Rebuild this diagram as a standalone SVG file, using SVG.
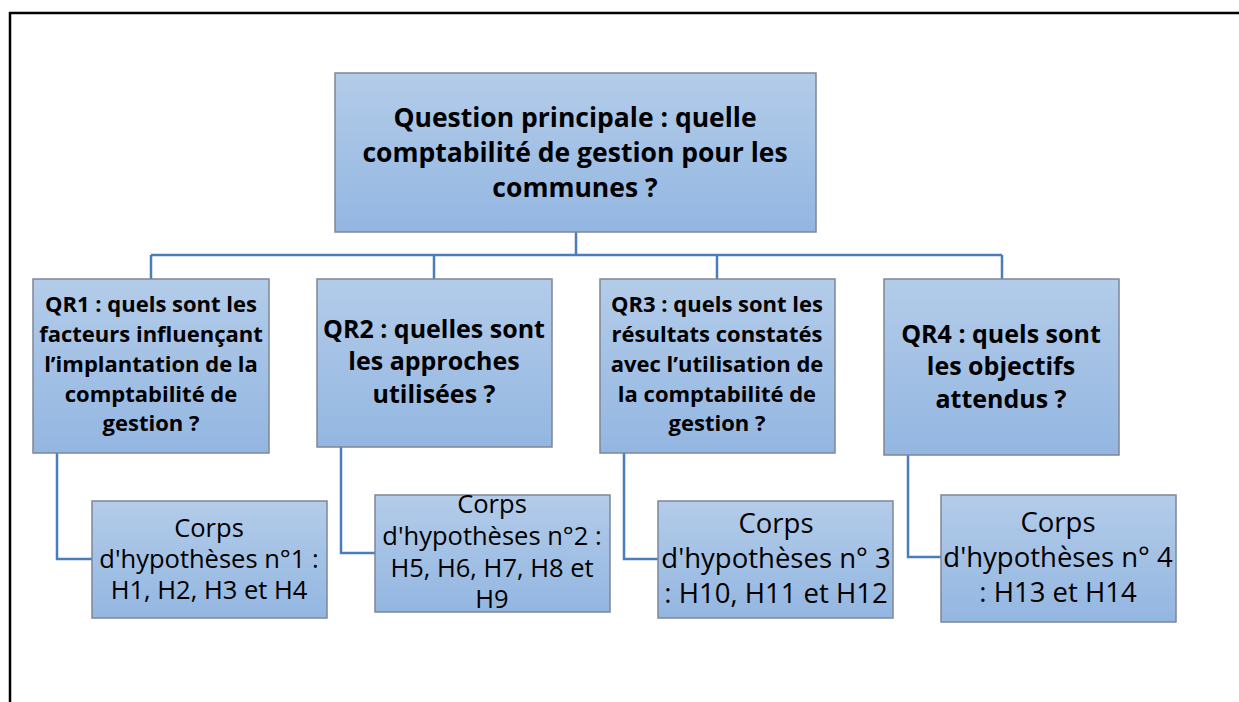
<svg xmlns="http://www.w3.org/2000/svg" width="1239" height="702" viewBox="0 0 1239 702">
<defs>
<linearGradient id="g" x1="0" y1="0" x2="0" y2="1">
<stop offset="0" stop-color="#b3cce9"/>
<stop offset="1" stop-color="#93b6e1"/>
</linearGradient>
<style>
.box{fill:url(#g);stroke:#7d8797;stroke-width:1.5}
.c{fill:none;stroke:#4a7ebb;stroke-width:2.5}
.t{font-family:"Open Sans","Liberation Sans",sans-serif;fill:#000;text-anchor:middle}
.b{font-weight:bold}
</style>
</defs>
<rect width="1239" height="702" fill="#fff"/>
<path d="M9 13H1239M10 12V702" stroke="#000" stroke-width="2.5" fill="none"/>
<g id="connectors">
<path class="c" d="M576 232V255M151 255H1002M151 255V279M434 255V279M717 255V279M1002 255V279"/>
<path class="c" d="M57 453V559H92"/>
<path class="c" d="M341 447V553H375"/>
<path class="c" d="M624 453V559H658"/>
<path class="c" d="M908 455V557H941"/>
</g>
<g id="main">
<rect class="box" x="335" y="73" width="481" height="159"/>
<text class="t b" font-size="26.5"><tspan x="575" y="127">Question principale : quelle</tspan><tspan x="575" y="162">comptabilité de gestion pour les</tspan><tspan x="575" y="197">communes ?</tspan></text>
</g>
<g id="qr1">
<rect class="box" x="33" y="279" width="236" height="174"/>
<text class="t b" font-size="22"><tspan x="151" y="312">QR1 : quels sont les</tspan><tspan x="151" y="342">facteurs influençant</tspan><tspan x="151" y="372">l’implantation de la</tspan><tspan x="151" y="402">comptabilité de</tspan><tspan x="151" y="431">gestion ?</tspan></text>
</g>
<g id="qr2">
<rect class="box" x="317" y="279" width="235" height="168"/>
<text class="t b" font-size="25"><tspan x="434" y="338">QR2 : quelles sont</tspan><tspan x="434" y="370">les approches</tspan><tspan x="434" y="403">utilisées ?</tspan></text>
</g>
<g id="qr3">
<rect class="box" x="600" y="279" width="235" height="174"/>
<text class="t b" font-size="22"><tspan x="717" y="312">QR3 : quels sont les</tspan><tspan x="717" y="342">résultats constatés</tspan><tspan x="717" y="372">avec l’utilisation de</tspan><tspan x="717" y="402">la comptabilité de</tspan><tspan x="717" y="431">gestion ?</tspan></text>
</g>
<g id="qr4">
<rect class="box" x="884" y="279" width="235" height="176"/>
<text class="t b" font-size="25"><tspan x="1001" y="343">QR4 : quels sont</tspan><tspan x="1001" y="375">les objectifs</tspan><tspan x="1001" y="408">attendus ?</tspan></text>
</g>
<g id="h1">
<rect class="box" x="92" y="501" width="235" height="117"/>
<text class="t" font-size="25.5"><tspan x="209" y="537">Corps</tspan><tspan x="209" y="568">d'hypothèses n°1 :</tspan><tspan x="209" y="599">H1, H2, H3 et H4</tspan></text>
</g>
<g id="h2">
<rect class="box" x="375" y="495" width="235" height="117"/>
<text class="t" font-size="25.5"><tspan x="492" y="513">Corps</tspan><tspan x="492" y="545">d'hypothèses n°2 :</tspan><tspan x="492" y="577">H5, H6, H7, H8 et</tspan><tspan x="492" y="608">H9</tspan></text>
</g>
<g id="h3">
<rect class="box" x="658" y="501" width="235" height="117"/>
<text class="t" font-size="27.5"><tspan x="776" y="533">Corps</tspan><tspan x="776" y="568">d'hypothèses n° 3</tspan><tspan x="776" y="603">: H10, H11 et H12</tspan></text>
</g>
<g id="h4">
<rect class="box" x="941" y="495" width="235" height="127"/>
<text class="t" font-size="27.5"><tspan x="1058" y="532">Corps</tspan><tspan x="1058" y="567">d'hypothèses n° 4</tspan><tspan x="1058" y="602">: H13 et H14</tspan></text>
</g>
</svg>
